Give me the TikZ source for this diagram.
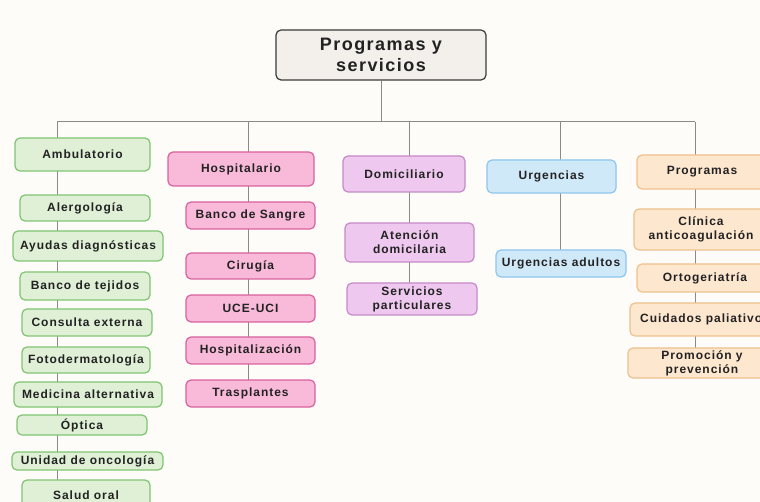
\documentclass[tikz,border=0pt]{standalone}
\usepackage{fontspec}
\setmainfont{Liberation Sans}[LetterSpace=8]
\usepackage{xcolor}
\usepackage{tikz}
\usetikzlibrary{backgrounds}

\definecolor{paper}{HTML}{FDFCF8}
\definecolor{wire}{HTML}{8A8A8A}
\definecolor{ink}{HTML}{222222}
\definecolor{rootfill}{HTML}{F3EFEA}
\definecolor{rootline}{HTML}{3A3A3A}
\definecolor{ambfill}{HTML}{DFF0D6}
\definecolor{ambline}{HTML}{80C472}
\definecolor{hosfill}{HTML}{F9BAD9}
\definecolor{hosline}{HTML}{D9629C}
\definecolor{domfill}{HTML}{EEC8EE}
\definecolor{domline}{HTML}{C58AC8}
\definecolor{urgfill}{HTML}{D0E9F8}
\definecolor{urgline}{HTML}{8DC6EC}
\definecolor{profill}{HTML}{FDE7CF}
\definecolor{proline}{HTML}{EFC18E}

\begin{document}
\begin{tikzpicture}[x=1pt, y=-1pt,
    box/.style={rounded corners=5pt, line width=1.2pt, inner sep=0pt, align=center,
      text=ink, font=\fontsize{12}{14}\selectfont\bfseries},
    rootbox/.style={box, fill=rootfill, draw=rootline,
      font=\fontsize{18}{21}\selectfont\bfseries},
    ambbox/.style={box, fill=ambfill, draw=ambline},
    hosbox/.style={box, fill=hosfill, draw=hosline},
    dombox/.style={box, fill=domfill, draw=domline},
    urgbox/.style={box, fill=urgfill, draw=urgline},
    probox/.style={box, fill=profill, draw=proline},
    wire/.style={draw=wire, line width=1pt}]

      \useasboundingbox (0,0) rectangle (760,502);
      \clip (0,0) rectangle (760,502);

      \coordinate (J) at (381,122);
      \coordinate (C1) at (57,122);
      \coordinate (C2) at (248,122);
      \coordinate (C3) at (409,122);
      \coordinate (C4) at (560,122);
      \coordinate (C5) at (695,122);

      \node[rootbox, minimum width=210, minimum height=50] (root) at (381,55) {Programas y\\servicios};

      \node[ambbox, minimum width=135, minimum height=33] (amb) at (82.5,154.5) {Ambulatorio};
      \node[ambbox, minimum width=130, minimum height=26] (ale) at (85,208) {Alergología};
      \node[ambbox, minimum width=150, minimum height=30] (ayu) at (88,246) {Ayudas diagnósticas};
      \node[ambbox, minimum width=130, minimum height=28] (bte) at (85,286) {Banco de tejidos};
      \node[ambbox, minimum width=130, minimum height=27] (con) at (87,322.5) {Consulta externa};
      \node[ambbox, minimum width=128, minimum height=26] (fot) at (86,360) {Fotodermatología};
      \node[ambbox, minimum width=148, minimum height=25] (med) at (88,394.5) {Medicina alternativa};
      \node[ambbox, minimum width=130, minimum height=20] (opt) at (82,425) {Óptica};
      \node[ambbox, minimum width=151, minimum height=18] (onc) at (87.5,461) {Unidad de oncología};
      \node[ambbox, minimum width=128, minimum height=30] (sal) at (86,495) {Salud oral};

      \node[hosbox, minimum width=146, minimum height=34] (hos) at (241,169) {Hospitalario};
      \node[hosbox, minimum width=129, minimum height=27] (bsa) at (250.5,215.5) {Banco de Sangre};
      \node[hosbox, minimum width=129, minimum height=26] (cir) at (250.5,266) {Cirugía};
      \node[hosbox, minimum width=129, minimum height=27] (uce) at (250.5,308.5) {UCE-UCI};
      \node[hosbox, minimum width=129, minimum height=27] (hsp) at (250.5,350.5) {Hospitalización};
      \node[hosbox, minimum width=129, minimum height=27] (tra) at (250.5,393.5) {Trasplantes};

      \node[dombox, minimum width=122, minimum height=36] (dom) at (404,174) {Domiciliario};
      \node[dombox, minimum width=129, minimum height=39] (ate) at (409.5,242.5) {Atención\\domicilaria};
      \node[dombox, minimum width=130, minimum height=32] (ser) at (412,299) {Servicios\\particulares};

      \node[urgbox, minimum width=129, minimum height=33] (urg) at (551.5,176.5) {Urgencias};
      \node[urgbox, minimum width=130, minimum height=27] (uad) at (561,263.5) {Urgencias adultos};

      \node[probox, minimum width=130, minimum height=34] (pro) at (702,172) {Programas};
      \node[probox, minimum width=134, minimum height=41] (cli) at (701,229.5) {Clínica\\anticoagulación};
      \node[probox, minimum width=136, minimum height=28] (ort) at (705,278) {Ortogeriatría};
      \node[probox, minimum width=150, minimum height=33] (cui) at (705,319.5) {Cuidados paliativos};
      \node[probox, minimum width=148, minimum height=30] (prv) at (702,363) {Promoción y\\prevención};

      \begin{pgfonlayer}{background}
        \fill[paper] (0,0) rectangle (760,502);
        \draw[wire] (root.south) -- (J);
        \draw[wire] (C1) -- (C5);
        \draw[wire] (C1) -- (C1 |- sal.center);
        \draw[wire] (C2) -- (C2 |- tra.center);
        \draw[wire] (C3) -- (C3 |- ser.center);
        \draw[wire] (C4) -- (C4 |- uad.center);
        \draw[wire] (C5) -- (C5 |- prv.center);
      \end{pgfonlayer}
    \end{tikzpicture}
\end{document}
